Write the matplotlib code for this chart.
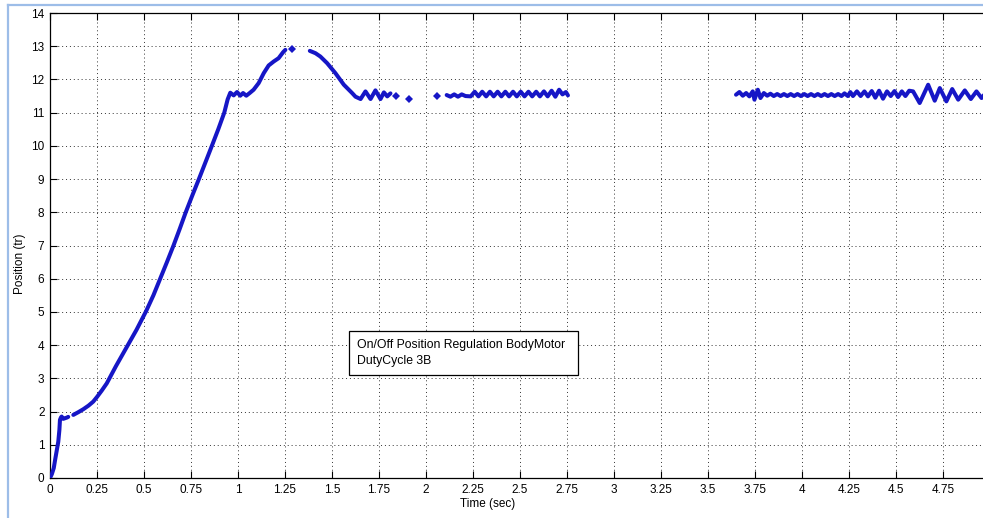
import numpy as np
import matplotlib
matplotlib.use("Agg")
import matplotlib.pyplot as plt
from matplotlib.lines import Line2D
from matplotlib.patches import Rectangle
from matplotlib.ticker import FuncFormatter

plt.rcParams['font.family'] = ['Liberation Sans', 'DejaVu Sans']

# Logged motor position (turns) vs time (s); sampling drops out between segments
rise_t = [0.000, 0.010, 0.020, 0.027, 0.035, 0.044, 0.050, 0.053, 0.058, 0.062,
          0.070, 0.080, 0.090, 0.097]
rise_pos = [0.00, 0.12, 0.30, 0.54, 0.80, 1.09, 1.45, 1.75, 1.82, 1.85,
            1.78, 1.80, 1.82, 1.84]

ramp_t = [0.124, 0.150, 0.177, 0.205, 0.230, 0.250, 0.275, 0.302, 0.350, 0.409,
          0.460, 0.511, 0.550, 0.586, 0.622, 0.657, 0.690, 0.722, 0.760, 0.792,
          0.830, 0.861, 0.895, 0.927, 0.945, 0.959, 0.977, 0.995, 1.012, 1.027,
          1.044, 1.062, 1.083, 1.110, 1.137, 1.163, 1.190, 1.216, 1.240, 1.252]
ramp_pos = [1.90, 1.98, 2.07, 2.18, 2.30, 2.44, 2.63, 2.85, 3.36, 3.95,
            4.46, 5.02, 5.50, 6.00, 6.50, 7.00, 7.50, 8.00, 8.55, 9.00,
            9.55, 10.00, 10.50, 11.00, 11.40, 11.60, 11.52, 11.62, 11.51, 11.59,
            11.51, 11.59, 11.69, 11.89, 12.19, 12.42, 12.54, 12.64, 12.82, 12.89]

settle_t = [1.382, 1.412, 1.438, 1.474, 1.518, 1.563, 1.607, 1.625, 1.652, 1.678,
            1.705, 1.731, 1.758, 1.776, 1.794, 1.811]
settle_pos = [12.86, 12.79, 12.69, 12.49, 12.19, 11.84, 11.59, 11.48, 11.41, 11.64,
              11.41, 11.67, 11.41, 11.61, 11.49, 11.58]

single_t = [1.288, 1.838, 1.909, 2.060]
single_pos = [12.92, 11.50, 11.40, 11.50]

hold1_t = [2.110, 2.130, 2.150, 2.170, 2.190, 2.210, 2.238, 2.259, 2.279, 2.299,
           2.320, 2.340, 2.360, 2.381, 2.401, 2.422, 2.442, 2.463, 2.483, 2.504,
           2.524, 2.545, 2.565, 2.586, 2.606, 2.627, 2.647, 2.668, 2.688, 2.708,
           2.726, 2.744, 2.755]
hold1_pos = [11.53, 11.48, 11.55, 11.48, 11.55, 11.50, 11.49, 11.63, 11.49, 11.63,
             11.49, 11.63, 11.49, 11.63, 11.49, 11.63, 11.49, 11.63, 11.49, 11.63,
             11.49, 11.63, 11.49, 11.63, 11.49, 11.64, 11.49, 11.66, 11.48, 11.69,
             11.55, 11.62, 11.52]

hold2_t = [3.649, 3.667, 3.685, 3.703, 3.720, 3.738, 3.747, 3.765, 3.779, 3.797,
           3.815, 3.832, 3.850, 3.868, 3.886, 3.904, 3.922, 3.940, 3.958, 3.976,
           3.994, 4.012, 4.030, 4.048, 4.066, 4.084, 4.102, 4.120, 4.138, 4.156,
           4.174, 4.192, 4.210, 4.226, 4.244, 4.257, 4.271, 4.292, 4.312, 4.332,
           4.351, 4.371, 4.390, 4.410, 4.431, 4.452, 4.472, 4.492, 4.511, 4.531,
           4.550, 4.570, 4.591, 4.626, 4.671, 4.706, 4.733, 4.768, 4.799, 4.831,
           4.866, 4.898, 4.928, 4.955, 4.981, 5.000]
hold2_pos = [11.54, 11.62, 11.51, 11.59, 11.49, 11.64, 11.39, 11.69, 11.44, 11.59,
             11.51, 11.57, 11.50, 11.56, 11.50, 11.56, 11.50, 11.56, 11.50, 11.56,
             11.50, 11.56, 11.50, 11.56, 11.50, 11.56, 11.50, 11.56, 11.50, 11.56,
             11.50, 11.56, 11.50, 11.58, 11.50, 11.62, 11.50, 11.64, 11.50, 11.64,
             11.49, 11.65, 11.45, 11.66, 11.42, 11.64, 11.50, 11.65, 11.47, 11.64,
             11.50, 11.66, 11.64, 11.29, 11.84, 11.36, 11.74, 11.34, 11.71, 11.39,
             11.67, 11.41, 11.64, 11.44, 11.62, 11.50]

# labelled ticks (the 5 s tick lies beyond the visible canvas)
x_ticks = [0, 0.25, 0.5, 0.75, 1, 1.25, 1.5, 1.75, 2, 2.25, 2.5, 2.75,
           3, 3.25, 3.5, 3.75, 4, 4.25, 4.5, 4.75]
y_ticks = list(range(0, 15))

note_lines = ["On/Off Position Regulation BodyMotor", "DutyCycle 3B"]

W, H = 983, 518
fig = plt.figure(figsize=(W / 100, H / 100), dpi=100)
fig.patch.set_facecolor('white')

# axes run past the right edge of the canvas
ax = fig.add_axes([50 / W, 40 / H, 940 / W, 465 / H])
ax.set_xlim(0, 5)
ax.set_ylim(0, 14)

blue = '#1616c6'
for t, p in [(rise_t, rise_pos), (ramp_t, ramp_pos), (settle_t, settle_pos),
             (hold1_t, hold1_pos), (hold2_t, hold2_pos)]:
    ax.plot(t, p, color=blue, lw=2.9, solid_joinstyle='round',
            solid_capstyle='round', zorder=3)
ax.plot(single_t, single_pos, ls='none', color=blue, marker='D', ms=3.6,
        mew=0, zorder=3)

ax.set_xticks(x_ticks)
ax.set_yticks(y_ticks)
ax.xaxis.set_major_formatter(FuncFormatter(lambda v, _: f"{v:g}"))
ax.tick_params(direction='in', length=5, width=0.8, labelsize=8.5,
               top=True, right=True, pad=4, colors='black')
ax.grid(True, color='#333333', ls=(0, (1, 3)), lw=0.7)
for s in ax.spines.values():
    s.set_linewidth(0.9)

ax.set_xlabel("Time (sec)", fontsize=8.5)
ax.set_ylabel("Position (tr)", fontsize=8.5)
ax.xaxis.set_label_coords((488 - 50) / 940, -0.044)
ax.yaxis.set_label_coords((26 - 50) / 940, (478 - 264) / 465)

# annotation box
ax.add_patch(Rectangle((1.593, 3.10), 1.215, 1.33, fc='white', ec='black',
                       lw=0.9, zorder=4))
ax.text(1.632, 3.77, note_lines[0] + "\n" + note_lines[1], fontsize=8.8,
        va='center', ha='left', linespacing=1.45, zorder=5)

# window frame edge
frame = '#9dbde8'
fig.add_artist(Line2D([8 / W, 8 / W], [0, 1 - 5 / H], color=frame, lw=1.6))
fig.add_artist(Line2D([8 / W, 1], [1 - 5 / H, 1 - 5 / H], color=frame, lw=1.6))

fig.savefig("out.png", dpi=100)
